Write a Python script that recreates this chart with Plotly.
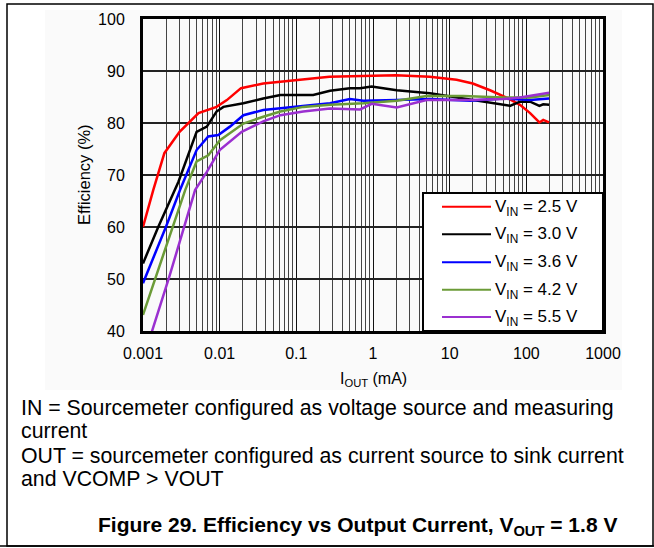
import plotly.graph_objects as go

# ---------------- data ----------------
series_names = ["V<sub>IN</sub> = 2.5 V", "V<sub>IN</sub> = 3.0 V", "V<sub>IN</sub> = 3.6 V",
                "V<sub>IN</sub> = 4.2 V", "V<sub>IN</sub> = 5.5 V"]
series_colors = ["#ff0000", "#000000", "#0000ff", "#6b9b37", "#9b30d0"]

x_25 = [0.001, 0.00136, 0.0019, 0.003, 0.0053, 0.0091, 0.0124, 0.019, 0.037, 0.1, 0.27, 1.0, 2.0,
        5.5, 12.3, 20, 33.6, 55, 82.6, 112, 148, 166, 198]
y_25 = [60.0, 67.1, 74.2, 78.3, 81.9, 83.1, 84.4, 86.7, 87.6, 88.3, 88.9, 89.1, 89.2,
        88.9, 88.3, 87.6, 86.3, 84.9, 83.5, 81.9, 80.1, 80.6, 80.1]

x_30 = [0.001, 0.00158, 0.0029, 0.005, 0.0068, 0.0091, 0.0112, 0.0204, 0.037, 0.062, 0.166, 0.275,
        0.5, 0.68, 0.96, 2.04, 5.53, 15.1, 33.6, 61, 82.6, 112, 148, 166, 198]
y_30 = [53.0, 60.0, 68.7, 78.3, 79.3, 82.2, 83.1, 83.8, 84.7, 85.4, 85.4, 86.2,
        86.7, 86.7, 87.0, 86.3, 85.7, 84.7, 83.8, 83.3, 84.1, 84.1, 83.3, 83.6, 83.5]

x_36 = [0.001, 0.002, 0.00304, 0.005, 0.0071, 0.0096, 0.0136, 0.0204, 0.037, 0.1, 0.275, 0.5,
        0.75, 2.04, 5.5, 18.4, 50, 112, 150, 198]
y_36 = [49.2, 60.1, 67.1, 74.8, 77.4, 77.7, 79.3, 81.5, 82.5, 83.1, 83.8, 84.6,
        84.3, 84.4, 84.6, 84.3, 84.7, 84.4, 84.6, 84.7]

x_42 = [0.001, 0.00148, 0.00355, 0.005, 0.0071, 0.0101, 0.0204, 0.037, 0.062, 0.123, 0.275, 0.75,
        2.04, 5.0, 15.1, 50, 112, 198]
y_42 = [43.1, 50.4, 67.1, 72.6, 73.8, 76.7, 79.9, 81.2, 82.2, 83.1, 83.5, 83.8,
        84.3, 85.2, 85.2, 84.9, 84.9, 85.4]

x_55 = [0.001, 0.0022, 0.00478, 0.0068, 0.01, 0.0194, 0.037, 0.062, 0.123, 0.275, 0.68, 0.96,
        2.04, 5.0, 18.4, 50, 82.6, 198]
y_55 = [34.5, 50.4, 67.1, 70.6, 74.8, 78.3, 80.3, 81.5, 82.2, 82.8, 82.6, 83.7,
        83.0, 84.4, 84.4, 84.6, 84.9, 85.8]

xs = [x_25, x_30, x_36, x_42, x_55]
ys = [y_25, y_30, y_36, y_42, y_55]

x_tickvals = [0.001, 0.01, 0.1, 1, 10, 100, 1000]
x_ticktext = ["0.001", "0.01", "0.1", "1", "10", "100", "1000"]
y_tickvals = [40, 50, 60, 70, 80, 90, 100]

x_title = "I<sub>OUT</sub> (mA)"
y_title = "Efficiency (%)"
note_lines = ["IN = Sourcemeter configured as voltage source and measuring",
              "current",
              "OUT = sourcemeter configured as current source to sink current",
              "and VCOMP > VOUT"]
caption = "Figure 29. Efficiency vs Output Current, V<sub>OUT</sub> = 1.8 V"

# ---------------- layout geometry ----------------
W, H = 654, 548
L, R, T, B = 143, 603, 19, 331


def px(x):
    return (x - L) / (R - L)


def py(y):
    return (B - y) / (B - T)


FONT = "Arial, Liberation Sans, sans-serif"

fig = go.Figure()
for name, color, x, y in zip(series_names, series_colors, xs, ys):
    fig.add_trace(go.Scatter(x=x, y=y, mode="lines", name=name,
                             line=dict(color=color, width=2.5), showlegend=False))

shapes = []
annotations = []

# faint background panel
shapes.append(dict(type="rect", xref="paper", yref="paper", layer="below",
                   x0=px(45), x1=px(622), y0=py(390), y1=py(10),
                   fillcolor="#fafafa", line=dict(width=0)))
# page frame
shapes.append(dict(type="rect", xref="paper", yref="paper",
                   x0=px(7), x1=px(653), y0=py(546), y1=py(4),
                   line=dict(color="black", width=1.5)))
shapes.append(dict(type="line", xref="paper", yref="paper",
                   x0=px(0), x1=px(654), y0=py(546), y1=py(546),
                   line=dict(color="black", width=1.5)))

# manual legend
shapes.append(dict(type="rect", xref="paper", yref="paper", layer="above",
                   x0=px(423), x1=px(603), y0=py(331), y1=py(193),
                   fillcolor="white", line=dict(color="black", width=2)))
leg_y = [206.7, 234.3, 262.3, 289.7, 317]
for name, color, yy in zip(series_names, series_colors, leg_y):
    shapes.append(dict(type="line", xref="paper", yref="paper", layer="above",
                       x0=px(442), x1=px(491), y0=py(yy), y1=py(yy),
                       line=dict(color=color, width=2)))
    annotations.append(dict(xref="paper", yref="paper", x=px(493), y=py(yy + 1),
                            xanchor="left", yanchor="middle", showarrow=False,
                            text=name, font=dict(family=FONT, size=17, color="black")))

# x axis title
annotations.append(dict(xref="paper", yref="paper", x=px(373), y=py(380),
                        xanchor="center", yanchor="middle", showarrow=False,
                        text=x_title, font=dict(family=FONT, size=16, color="black")))
# y axis title
annotations.append(dict(xref="paper", yref="paper", x=px(84), y=py(175),
                        xanchor="center", yanchor="middle", showarrow=False, textangle=-90,
                        text=y_title, font=dict(family=FONT, size=16.5, color="black")))

note_y = [408, 431, 456, 479]
for line, yy in zip(note_lines, note_y):
    annotations.append(dict(xref="paper", yref="paper", x=px(19), y=py(yy),
                            xanchor="left", yanchor="middle", showarrow=False,
                            text=line, font=dict(family=FONT, size=21.3, color="black")))

annotations.append(dict(xref="paper", yref="paper", x=px(619), y=py(526),
                        xanchor="right", yanchor="middle", showarrow=False,
                        text="<b>" + caption + "</b>",
                        font=dict(family=FONT, size=21, color="black")))

fig.update_layout(
    width=W, height=H, autosize=False,
    margin=dict(l=L, r=W - R, t=T, b=H - B, pad=0),
    paper_bgcolor="white", plot_bgcolor="rgba(0,0,0,0)",
    shapes=shapes, annotations=annotations, showlegend=False,
    font=dict(family=FONT, color="black"),
)
fig.update_xaxes(type="log", range=[-3, 3], tickvals=x_tickvals, ticktext=x_ticktext,
                 showgrid=True, gridcolor="#111111", gridwidth=1.3,
                 minor=dict(dtick="D1", showgrid=True, gridcolor="#444444", gridwidth=1.2),
                 showline=True, mirror=True, linecolor="black", linewidth=3,
                 ticks="", ticklabelstandoff=6, zeroline=False,
                 tickfont=dict(family=FONT, size=16, color="black"))
fig.update_yaxes(range=[40, 100], tickvals=y_tickvals,
                 showgrid=True, gridcolor="#222222", gridwidth=1.5,
                 showline=True, mirror=True, linecolor="black", linewidth=3,
                 ticks="", ticklabelstandoff=12, zeroline=False,
                 tickfont=dict(family=FONT, size=16, color="black"))

fig.write_html("out.html")
